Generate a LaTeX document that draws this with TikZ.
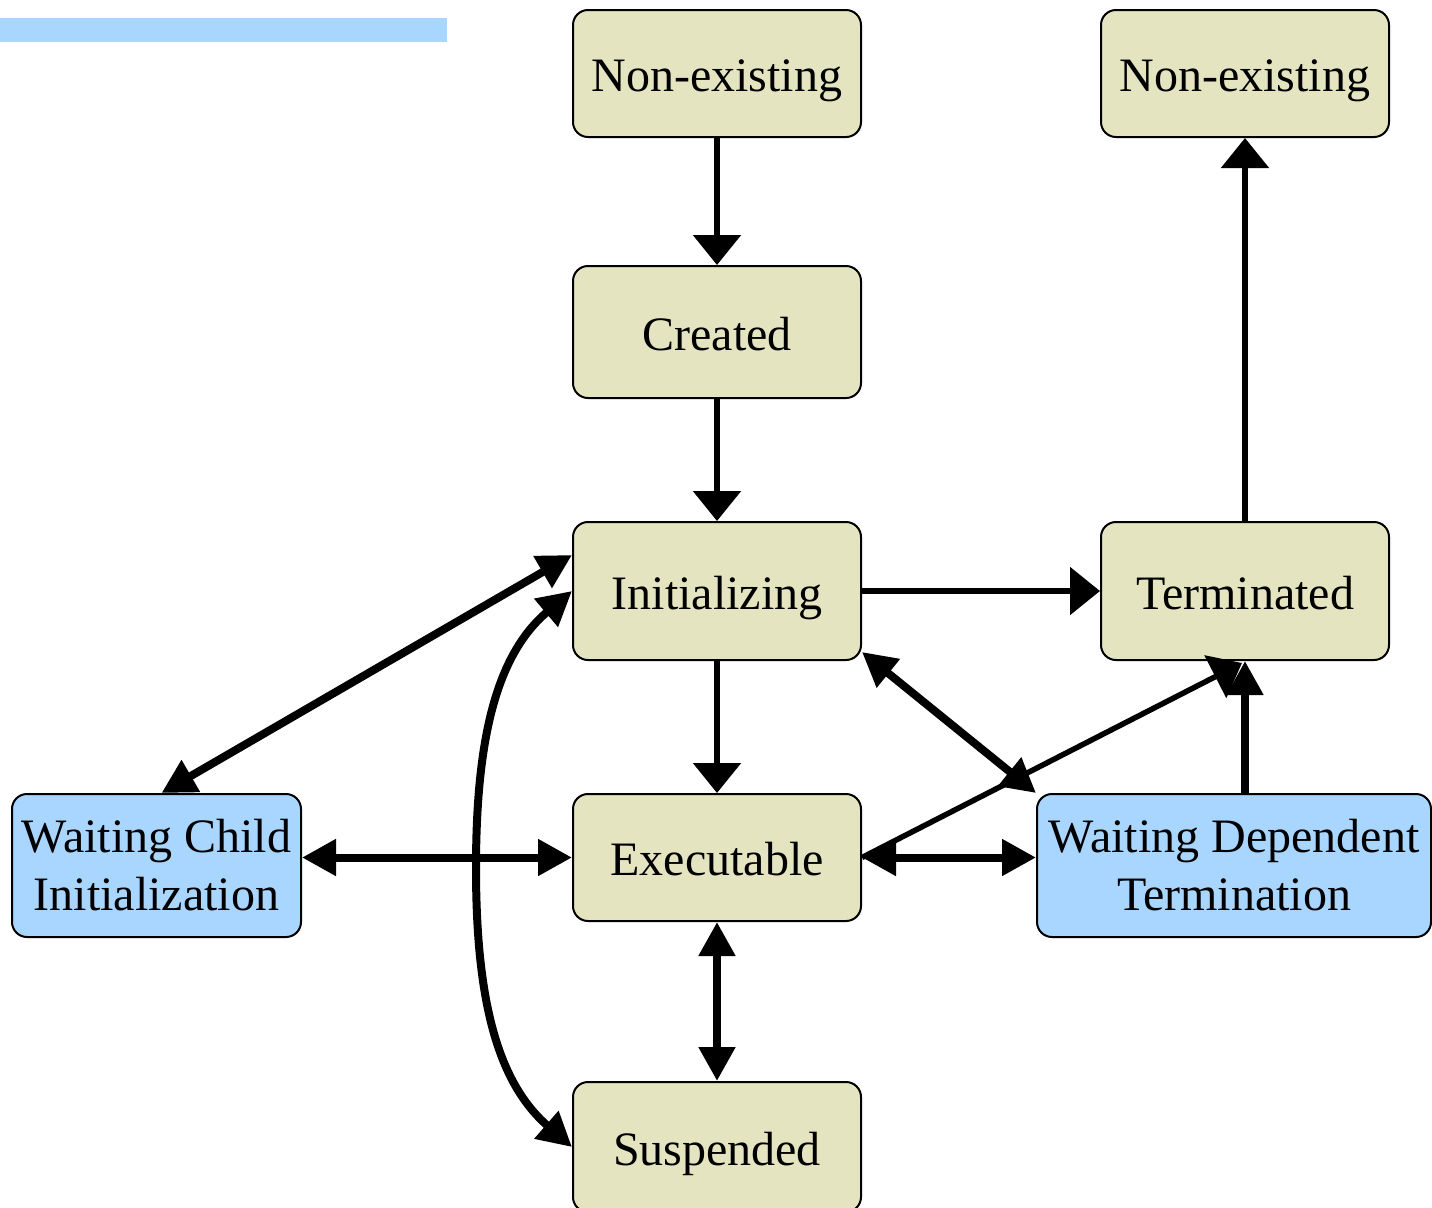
\documentclass[tikz,border=0pt]{standalone}
\usepackage{fontspec}
\setmainfont{Liberation Serif}
\usetikzlibrary{arrows.meta,calc}
\definecolor{beige}{RGB}{228,228,192}
\definecolor{lblue}{RGB}{168,214,255}
\tikzset{
  state/.style={draw=black, line width=1pt, rounded corners=7.5pt, fill=beige,
    inner sep=0pt, minimum width=144pt, font=\fontsize{24}{29}\selectfont,
    text height=18pt, text depth=0pt},
  wstate/.style={draw=black, line width=1pt, rounded corners=7.5pt, fill=lblue,
    inner sep=0pt, align=center, font=\fontsize{24}{29}\selectfont},
  thin/.style={line width=2.75pt, -{Triangle[width=23.5pt 0 0, length=15pt 0 0]}},
  thick1/.style={line width=4pt, -{Triangle[width=17.5pt 0 0, length=17pt 0 0]}},
  thick2/.style={line width=4pt, {Triangle[width=17.5pt 0 0, length=17pt 0 0]}-{Triangle[width=17.5pt 0 0, length=17pt 0 0]}},
}
\begin{document}
\begin{tikzpicture}[x=0.5pt,y=-0.5pt]
\useasboundingbox (0,0) rectangle (1432,1207);
\fill[lblue] (0,18) rectangle (447,42);

\node[state, minimum height=63.5pt] (ne1) at (717,73.5) {Non-existing};
\node[state, minimum height=63.5pt] (ne2) at (1245,73.5) {Non-existing};
\node[state, minimum height=66pt] (created) at (717,332) {Created};
\node[state, minimum height=69pt] (init) at (717,591) {Initializing};
\node[state, minimum height=69pt] (term) at (1245,591) {Terminated};
\node[state, minimum height=63.5pt] (exec) at (717,857.5) {Executable};
\node[state, minimum height=65pt] (susp) at (717,1147) {Suspended};
\node[wstate, minimum width=144.5pt, minimum height=71.5pt] (wc) at (156.5,865.5) {Waiting Child\\Initialization};
\node[wstate, minimum width=197pt, minimum height=71.5pt] (wd) at (1234,865.5) {Waiting Dependent\\Termination};
\coordinate (mid) at (476,868);

\draw[thin] (ne1.south) -- (created.north);
\draw[thin] (created.south) -- (init.north);
\draw[thin] (init.east) -- (term.west);
\draw[thin] (init.south) -- (exec.north);
\draw[thin] (term.north) -- (ne2.south);
\draw[thin] (exec.east) -- ($(term.south)+(-3,2)$);
\draw[thick1] (term.south |- wd.north) -- (term.south);

\draw[thick2] ($(wc.north)+(5,0)$) -- ($(init.west)+(0,-36)$);
\draw[thick2] (init.west) .. controls (496,655) and (476,740) .. (mid)
  .. controls (476,996) and (496,1081) .. (susp.west);
\draw[thick2] (wc.east |- exec.west) -- (exec.west);
\draw[thick2] (exec.east) -- (exec.east -| wd.west);
\draw[thick2] (exec.south) -- (susp.north);
\draw[thick2] ($(init.east)+(0,61)$) -- (wd.north west);
\end{tikzpicture}
\end{document}
